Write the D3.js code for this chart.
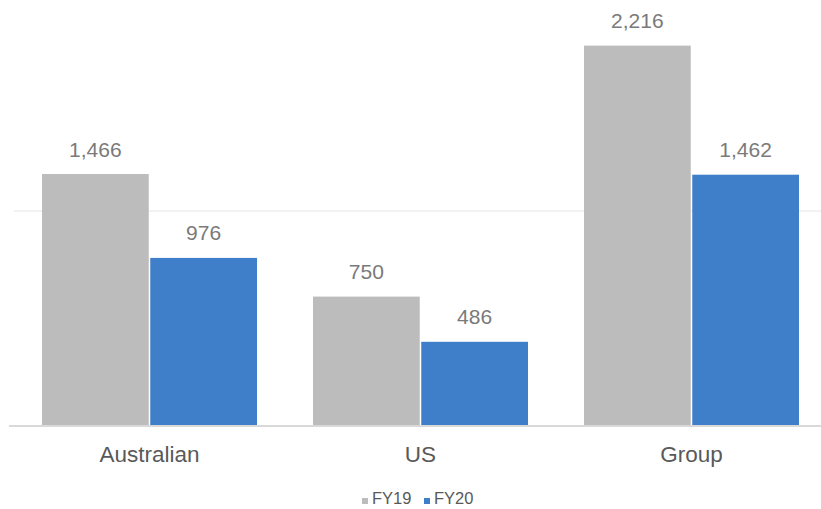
<!DOCTYPE html>
<html>
<head>
<meta charset="utf-8">
<script src="https://cdn.jsdelivr.net/npm/d3@7"></script>
<style>
  html, body { margin: 0; padding: 0; background: #fff; }
  svg { display: block; font-family: "Liberation Sans", Arial, sans-serif; }
</style>
</head>
<body>
<svg id="chart" width="821" height="509"></svg>
<script>
const categories = ["Australian", "US", "Group"];
const seriesNames = ["FY19", "FY20"];
const fy19 = [1466, 750, 2216];
const fy20 = [976, 486, 1462];
const gridTicks = [1250];
const colors = ["#bcbcbd", "#3f7fc9"];

const series = [fy19, fy20];
const svg = d3.select("#chart");
const W = 821;
const plot = { left: 14, right: 827, top: -3, bottom: 425 };

const x = d3.scaleBand().domain(categories).range([plot.left, plot.right]).paddingInner(0).paddingOuter(0);
const inner = 215 / 271;
const xs = d3.scaleBand().domain(seriesNames).range([0, x.bandwidth() * inner]).paddingInner(0.014);
const offset = (x.bandwidth() - x.bandwidth() * inner) / 2;
const y = d3.scaleLinear().domain([0, 2500]).range([plot.bottom, plot.top]);

// horizontal gridline
svg.append("g").selectAll("line").data(gridTicks).join("line")
  .attr("x1", plot.left).attr("x2", W)
  .attr("y1", d => y(d)).attr("y2", d => y(d))
  .attr("stroke", "#eeeeee").attr("stroke-width", 1.5);

const fmt = d3.format(",");

const groups = svg.append("g").selectAll("g").data(categories).join("g")
  .attr("transform", c => `translate(${x(c) + offset},0)`);

groups.selectAll("rect")
  .data((c, i) => seriesNames.map((s, j) => ({ s, v: series[j][i], j })))
  .join("rect")
  .attr("x", d => xs(d.s))
  .attr("width", xs.bandwidth())
  .attr("y", d => y(d.v))
  .attr("height", d => y(0) - y(d.v))
  .attr("fill", d => colors[d.j]);

groups.selectAll("text")
  .data((c, i) => seriesNames.map((s, j) => ({ s, v: series[j][i], j })))
  .join("text")
  .attr("x", d => xs(d.s) + xs.bandwidth() / 2)
  .attr("y", d => y(d.v) - 17.5)
  .attr("text-anchor", "middle")
  .attr("font-size", 21)
  .attr("fill", "#7a7a7a")
  .text(d => fmt(d.v));

// baseline
svg.append("line")
  .attr("x1", 9).attr("x2", W)
  .attr("y1", y(0) + 1).attr("y2", y(0) + 1)
  .attr("stroke", "#d9d9d9").attr("stroke-width", 2);

// category axis labels
svg.append("g").selectAll("text").data(categories).join("text")
  .attr("x", c => x(c) + x.bandwidth() / 2)
  .attr("y", 462)
  .attr("text-anchor", "middle")
  .attr("font-size", 22.5)
  .attr("fill", "#595959")
  .text(c => c);

// legend
const legend = svg.append("g").attr("transform", "translate(362,504)");
const items = [{ name: seriesNames[0], x: 0 }, { name: seriesNames[1], x: 62 }];
items.forEach((it, j) => {
  legend.append("rect").attr("x", it.x).attr("y", -6).attr("width", 6).attr("height", 6)
    .attr("fill", colors[j]);
  legend.append("text").attr("x", it.x + 10).attr("y", 0)
    .attr("font-size", 16.5).attr("fill", "#595959").text(it.name);
});
</script>
</body>
</html>
